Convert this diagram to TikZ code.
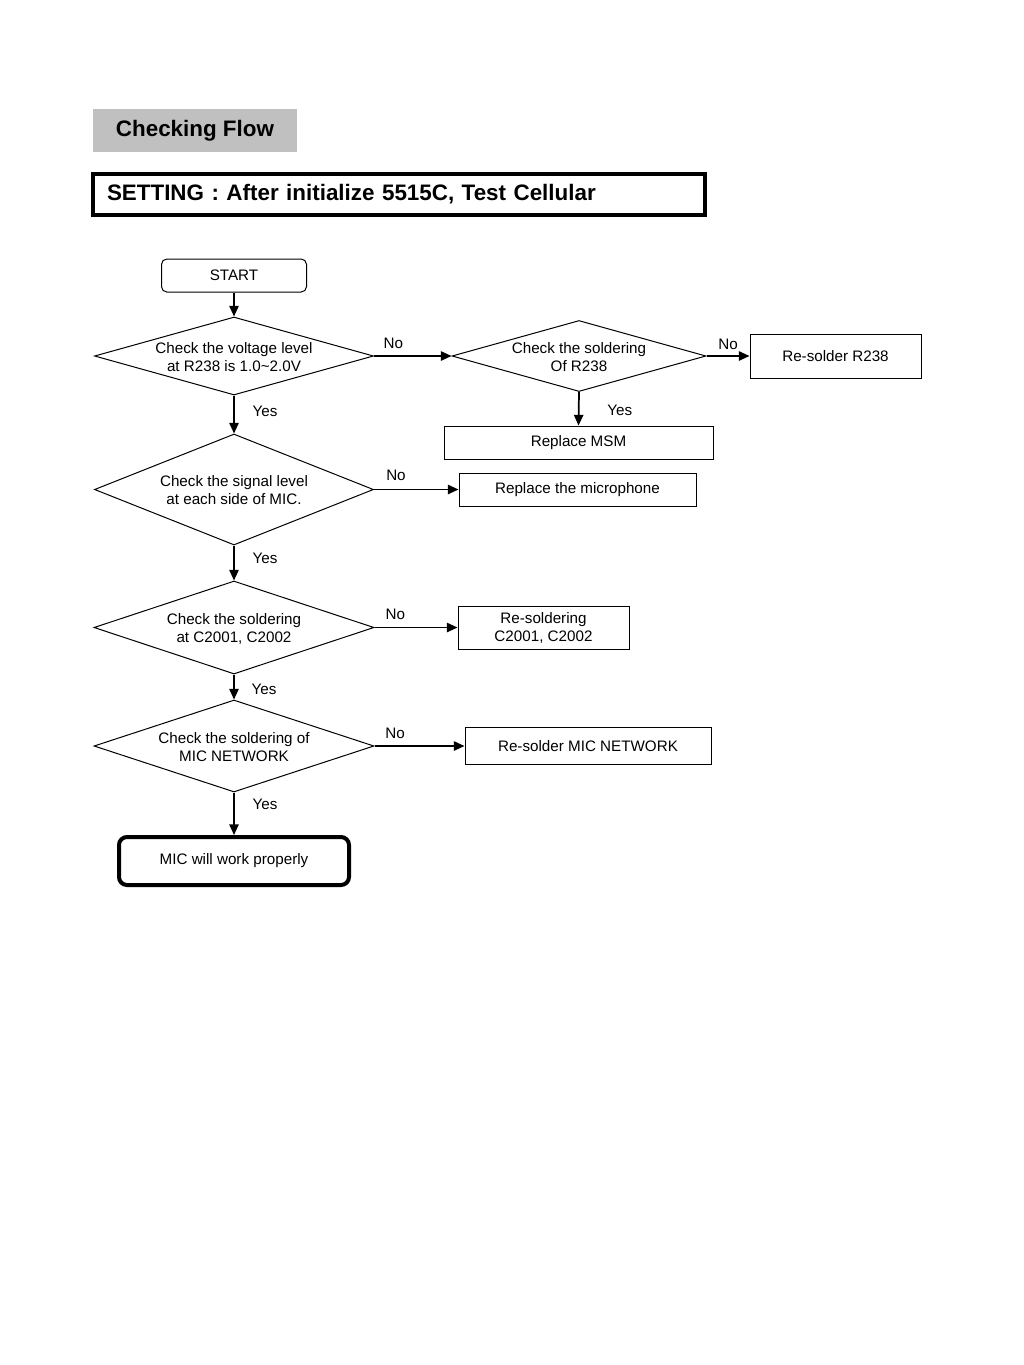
\documentclass[tikz,border=0pt]{standalone}
\usepackage{fontspec}
\setmainfont{Liberation Sans}
\usetikzlibrary{shapes.geometric,arrows.meta}
\definecolor{titlegray}{RGB}{192,192,192}
\begin{document}
\begin{tikzpicture}[x=0.75pt,y=-0.75pt,
  txt/.style={font=\fontsize{11.4}{13.5}\selectfont, align=center},
  box/.style={draw, line width=0.75pt, inner sep=0pt, txt},
  dec/.style={draw, diamond, line width=0.75pt, inner sep=0pt},
  conn/.style={line width=1.3pt, -{Triangle[length=8pt,width=7pt]}},
  lbl/.style={txt, inner sep=0pt}
]
\path[fill=white, use as bounding box] (0,0) rectangle (1024,1365);

% headers
\node[fill=titlegray, minimum width=153pt, minimum height=32.25pt, inner sep=0pt,
      font=\bfseries\fontsize{16.8}{20}\selectfont] (title) at (195,130.5) {Checking Flow};
\node[draw, line width=3pt, minimum height=30.75pt, text width=438pt, inner xsep=10.5pt,
      align=left, font=\bfseries\fontsize{16.8}{20}\selectfont] (setting) at (399,194.5)
      {SETTING : After initialize 5515C, Test Cellular};

% nodes
\node[box, rounded corners=4pt, minimum width=108.75pt, minimum height=24.75pt] (start) at (234,275.5) {START};

\node[dec, minimum width=209.25pt, minimum height=58.5pt,
      label={[txt, yshift=-0.75pt]center:{Check the voltage level\\at R238 is 1.0\textasciitilde 2.0V}}] (d1) at (234,356) {};
\node[dec, minimum width=190.5pt, minimum height=53.25pt,
      label={[txt, yshift=-0.75pt]center:{Check the soldering\\Of R238}}] (d2) at (579,356) {};
\node[box, minimum width=128.25pt, minimum height=33pt] (r238) at (835.5,356) {Re-solder R238};
\node[box, minimum width=201.75pt, minimum height=24.75pt] (msm) at (578.5,442.5) {Replace MSM};

\node[dec, minimum width=209.25pt, minimum height=83.25pt,
      label={[txt, yshift=-0.75pt]center:{Check the signal level\\at each side of MIC.}}] (d3) at (234,489.5) {};
\node[box, minimum width=177.75pt, minimum height=24.75pt] (mic) at (577.5,489.5) {Replace the microphone};

\node[dec, minimum width=210pt, minimum height=69.75pt,
      label={[txt, yshift=-0.75pt]center:{Check the soldering\\at C2001, C2002}}] (d4) at (234,627.5) {};
\node[box, minimum width=128.25pt, minimum height=32.25pt] (cap) at (543.5,627.5) {Re-soldering\\C2001, C2002};

\node[dec, minimum width=210pt, minimum height=69pt,
      label={[txt, yshift=-0.75pt]center:{Check the soldering of\\MIC NETWORK}}] (d5) at (234,746) {};
\node[box, minimum width=184.5pt, minimum height=27.75pt] (net) at (588,746) {Re-solder MIC NETWORK};

\node[box, line width=3pt, rounded corners=6pt, minimum width=172.5pt, minimum height=36pt] (end) at (234,861) {MIC will work properly};

% connectors
\draw[conn] (start.south) -- (d1.north);
\draw[conn] (d1.east) -- node[lbl, pos=0.25, yshift=9.75pt] {No} (d2.west);
\draw[conn] (d2.east) -- node[lbl, pos=0.5, yshift=9pt] {No} (r238.west);
\draw[conn] (d2.south) -- node[lbl, pos=0.56, xshift=30.75pt] {Yes} (msm.north);
\draw[conn] (d1.south) -- node[lbl, pos=0.41, xshift=23.25pt] {Yes} (d3.north);
\draw[conn] (d3.east) -- node[lbl, pos=0.26, yshift=10.5pt] {No} (mic.west);
\draw[conn] (d3.south) -- node[lbl, pos=0.36, xshift=23.25pt] {Yes} (d4.north);
\draw[conn] (d4.east) -- node[lbl, pos=0.25, yshift=9.75pt] {No} (cap.west);
\draw[conn] (d4.south) -- node[lbl, pos=0.6, xshift=22.5pt] {Yes} (d5.north);
\draw[conn] (d5.east) -- node[lbl, pos=0.23, yshift=9.75pt] {No} (net.west);
\draw[conn] (d5.south) -- node[lbl, pos=0.27, xshift=23.25pt] {Yes} (end.north);
\end{tikzpicture}
\end{document}
